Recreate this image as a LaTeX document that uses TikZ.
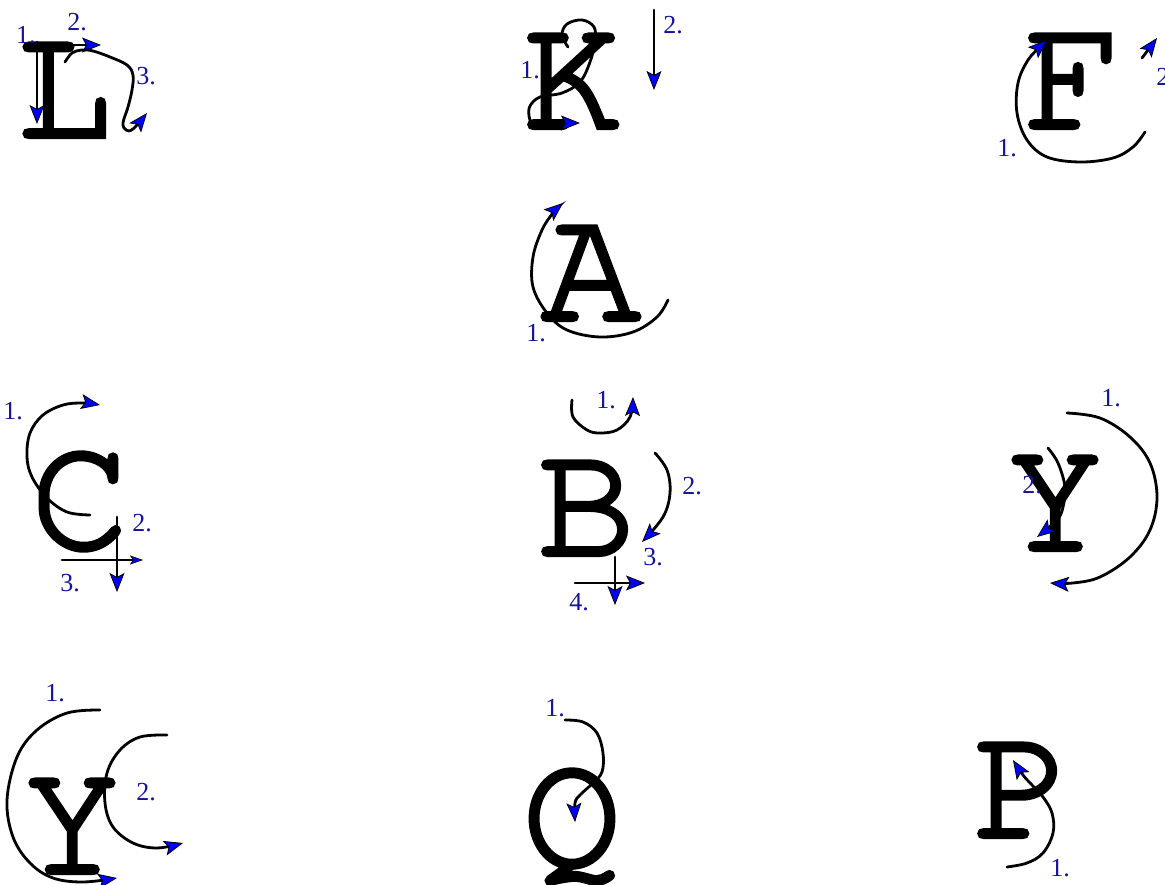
\documentclass[tikz,border=0pt]{standalone}
\usepackage{fontspec}
\newfontfamily\labelfont{Liberation Serif}
\newfontfamily\letterfont{TeX Gyre Cursor}[FakeBold=2.5]
\usetikzlibrary{arrows.meta}
\definecolor{labblue}{RGB}{20,20,150}
\definecolor{headblue}{RGB}{0,0,255}
\tikzset{
  letter/.style={font=\letterfont\fontsize{166}{166}\selectfont, inner sep=0pt, anchor=base},
  lab/.style={font=\labelfont\fontsize{26}{26}\selectfont, text=labblue, inner sep=0pt},
  arr/.style={line width=2.8pt, line cap=round, -{Stealth[length=19pt,width=15pt,inset=4pt,fill=headblue,line width=0.8pt]}},
  arrsmall/.style={line width=2.8pt, line cap=round, -{Stealth[length=13pt,width=9pt,inset=3pt,fill=headblue,line width=0.6pt]}}
}
\begin{document}
\begin{tikzpicture}[x=1pt,y=-1pt]
\useasboundingbox (0,0) rectangle (1165,885);
% letters
\node[letter] (L) at (64,137) {L};
\node[letter] (K) at (572,128) {K};
\node[letter] (F) at (1073,128) {F};
\node[letter] (A) at (591,320) {A};
\node[letter] (C) at (80,548) {C};
\node[letter] (B) at (586,555) {B};
\node[letter] (Y1) at (1055,550) {Y};
\node[letter] (Y2) at (72,873) {Y};
\node[letter] (Q) at (572,865) {Q};
\node[letter] (P) at (1022,837) {P};
% L
\draw[arr] (37,42) -- (37,124);
\draw[arr] (37,45) -- (101,45);
\draw[arr] plot[smooth,tension=0.6] coordinates {(65,62) (72,53) (82,50) (93,51) (110,57) (127,65) (133,75) (132,90) (128,107) (123,123) (126,130) (133,129) (147,113)};
\node[lab] (l1) at (26,35) {1.};
\node[lab] (l2) at (77,22) {2.};
\node[lab] (l3) at (146,76) {3.};
% K
\draw[arr] plot[smooth,tension=0.6] coordinates {(568,47) (562,35) (567,24) (582,20) (594,27) (595,42) (590,62) (580,82) (562,93) (540,97) (530,106) (529,116) (531,123)} -- (580,123);
\draw[arr] (654,10) -- (654,90);
\node[lab] (k1) at (530,70) {1.};
\node[lab] (k2) at (673,25) {2.};
% F
\draw[arr] plot[smooth,tension=0.6] coordinates {(1145,132) (1133,147) (1113,158) (1080,162) (1047,157) (1027,140) (1017,113) (1018,83) (1028,60) (1042,45) (1047,40)};
\draw[arr] (1142,58) -- (1157,38);
\node[lab] (f1) at (1007,148) {1.};
\node[lab] (f2) at (1166,77) {2.};
% A
\draw[arr] plot[smooth,tension=0.6] coordinates {(668,300) (657,317) (633,332) (600,337) (567,330) (547,313) (533,287) (533,257) (542,230) (553,213) (563,203)};
\node[lab] (a1) at (536,333) {1.};
% C
\draw[arr] plot[smooth,tension=0.6] coordinates {(90,515) (67,512) (47,498) (32,477) (27,457) (30,433) (43,415) (63,405) (83,403) (100,405)};
\draw[arr] (117,517) -- (117,592);
\draw[arrsmall] (62,560) -- (143,560);
\node[lab] (c1) at (13,411) {1.};
\node[lab] (c2) at (142,523) {2.};
\node[lab] (c3) at (70,583) {3.};
% B
\draw[arr] plot[smooth,tension=0.6] coordinates {(572,400) (573,417) (587,430) (600,433) (617,430) (630,417) (633,397)};
\draw[arr] plot[smooth,tension=0.6] coordinates {(655,453) (667,470) (670,493) (663,517) (642,542)};
\draw[arr] (615,557) -- (615,605);
\draw[arr] (575,583) -- (645,583);
\node[lab] (b1) at (606,400) {1.};
\node[lab] (b2) at (692,486) {2.};
\node[lab] (b3) at (653,557) {3.};
\node[lab] (b4) at (579,602) {4.};
% Y right
\draw[arr] plot[smooth,tension=0.6] coordinates {(1067,413) (1100,418) (1130,437) (1150,463) (1157,497) (1150,530) (1130,557) (1100,577) (1073,583) (1050,583)};
\draw[arr] plot[smooth,tension=0.6] coordinates {(1048,448) (1058,463) (1065,487) (1063,507) (1057,520) (1037,537)};
\node[lab] (y11) at (1111,398) {1.};
\node[lab] (y12) at (1032,485) {2.};
% Y left
\draw[arr] plot[smooth,tension=0.6] coordinates {(100,710) (67,713) (37,730) (17,757) (7,800) (13,837) (30,863) (53,878) (83,882) (117,878)};
\draw[arr] plot[smooth,tension=0.6] coordinates {(167,735) (140,737) (120,750) (107,773) (105,803) (113,827) (133,843) (157,848) (183,843)};
\node[lab] (y21) at (55,693) {1.};
\node[lab] (y22) at (146,792) {2.};
% Q
\draw[arr] plot[smooth,tension=0.6] coordinates {(565,720) (583,722) (597,733) (603,753) (602,772) (593,783) (580,795) (575,803) (575,822)};
\node[lab] (q1) at (555,708) {1.};
% P
\draw[arr] plot[smooth,tension=0.6] coordinates {(1007,867) (1027,863) (1043,853) (1053,833) (1052,813) (1043,797) (1032,785) (1023,775) (1013,760)};
\node[lab] (p1) at (1060,868) {1.};
\end{tikzpicture}
\end{document}
